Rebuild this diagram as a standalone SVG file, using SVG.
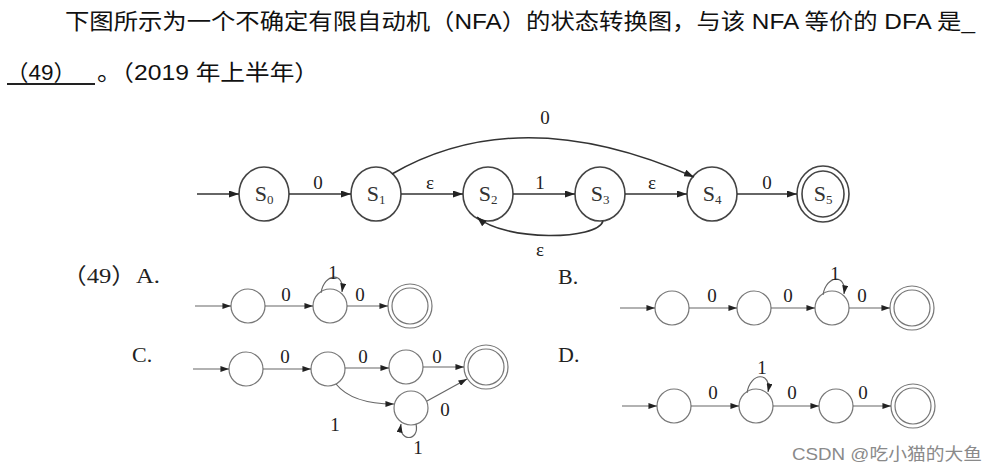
<svg xmlns="http://www.w3.org/2000/svg" width="998" height="473" viewBox="0 0 998 473">
<defs>
<marker id="ah" viewBox="0 0 10 7" refX="10" refY="3.5" markerWidth="10" markerHeight="7" markerUnits="userSpaceOnUse" orient="auto"><path d="M0,0 L10,3.5 L0,7 z" fill="#222"/></marker>
<marker id="as" viewBox="0 0 10 7" refX="10" refY="3.5" markerWidth="9" markerHeight="6" markerUnits="userSpaceOnUse" orient="auto"><path d="M0,0 L10,3.5 L0,7 z" fill="#222"/></marker>
<style>
.q{font-family:"Liberation Sans","Noto Sans CJK SC",sans-serif;font-size:22px;fill:#111}
.n{fill:#fff;stroke:#444;stroke-width:1.6}
.e{fill:none;stroke:#333;stroke-width:1.6;marker-end:url(#ah)}
.sl{font-family:"Liberation Serif",serif;font-size:22px;fill:#333;text-anchor:middle}
.el{font-family:"Liberation Serif",serif;font-size:19px;fill:#222;text-anchor:middle}
.o{font-family:"Liberation Serif","Noto Sans CJK SC",serif;font-size:22px;fill:#222}
.c{fill:#fff;stroke:#777;stroke-width:1.2}
.d{fill:none;stroke:#666;stroke-width:1.2;marker-end:url(#as)}
.dl{font-family:"Liberation Serif",serif;font-size:19px;fill:#222;text-anchor:middle}
</style>
</defs>
<rect width="998" height="473" fill="#fff"/>
<text class="q" x="65" y="29" textLength="910" lengthAdjust="spacingAndGlyphs">下图所示为一个不确定有限自动机（NFA）的状态转换图，与该 NFA 等价的 DFA 是_</text>
<text class="q" x="6" y="80" textLength="70" lengthAdjust="spacingAndGlyphs">（49）</text>
<line x1="7" y1="84" x2="95" y2="84" stroke="#222" stroke-width="2"/>
<text class="q" x="97" y="80" textLength="222" lengthAdjust="spacingAndGlyphs">。（2019 年上半年）</text>

<g id="S0"><ellipse class="n" cx="264" cy="194" rx="25" ry="27"/><text class="sl" x="264" y="201">S<tspan font-size="13" dy="3">0</tspan></text></g>
<g id="S1"><ellipse class="n" cx="376" cy="194" rx="25" ry="27"/><text class="sl" x="376" y="201">S<tspan font-size="13" dy="3">1</tspan></text></g>
<g id="S2"><ellipse class="n" cx="488" cy="194" rx="25" ry="27"/><text class="sl" x="488" y="201">S<tspan font-size="13" dy="3">2</tspan></text></g>
<g id="S3"><ellipse class="n" cx="600" cy="194" rx="25" ry="27"/><text class="sl" x="600" y="201">S<tspan font-size="13" dy="3">3</tspan></text></g>
<g id="S4"><ellipse class="n" cx="712" cy="194" rx="25" ry="27"/><text class="sl" x="712" y="201">S<tspan font-size="13" dy="3">4</tspan></text></g>
<g id="S5"><ellipse class="n" cx="823" cy="194" rx="26" ry="28"/><ellipse class="n" cx="823" cy="194" rx="21" ry="23"/><text class="sl" x="823" y="201">S<tspan font-size="13" dy="3">5</tspan></text></g>
<g id="connectors">
<line class="e" x1="197" y1="194" x2="239" y2="194"/>
<line class="e" x1="289" y1="194" x2="351" y2="194"/>
<line class="e" x1="401" y1="194" x2="463" y2="194"/>
<line class="e" x1="513" y1="194" x2="575" y2="194"/>
<line class="e" x1="625" y1="194" x2="687" y2="194"/>
<line class="e" x1="737" y1="194" x2="797" y2="194"/>
<path class="e" d="M392,174 Q520,100 694,177"/>
<path class="e" d="M603,221 C598,240 505,242 477,217"/>
<text class="el" x="545" y="124">0</text>
<text class="el" x="318" y="189">0</text>
<text class="el" x="430" y="189">ε</text>
<text class="el" x="540" y="189">1</text>
<text class="el" x="652" y="189">ε</text>
<text class="el" x="767" y="189">0</text>
<text class="el" x="540" y="256">ε</text>
</g>

<text class="o" x="62" y="283" textLength="98" lengthAdjust="spacingAndGlyphs">（49）A.</text>
<text class="o" x="558" y="284">B.</text>
<text class="o" x="132" y="362">C.</text>
<text class="o" x="558" y="362">D.</text>

<g id="optA">
<g id="A1"><circle class="c" cx="248" cy="306" r="17"/></g>
<g id="A2"><circle class="c" cx="330" cy="306" r="17"/></g>
<g id="A3"><circle class="c" cx="410" cy="306" r="22"/><circle class="c" cx="410" cy="306" r="18"/></g>
<g id="A-edges">
<line class="d" x1="195" y1="306" x2="231" y2="306"/>
<line class="d" x1="265" y1="306" x2="313" y2="306"/>
<line class="d" x1="347" y1="306" x2="388" y2="306"/>
<path class="d" d="M321,293 C324,273 345,271 342,292"/>
<text class="dl" x="286" y="301">0</text>
<text class="dl" x="360" y="301">0</text>
<text class="dl" x="333" y="279">1</text>
</g>
</g>

<g id="optB">
<g id="B1"><circle class="c" cx="672" cy="308" r="17"/></g>
<g id="B2"><circle class="c" cx="754" cy="308" r="17"/></g>
<g id="B3"><circle class="c" cx="832" cy="308" r="17"/></g>
<g id="B4"><circle class="c" cx="912" cy="308" r="22"/><circle class="c" cx="912" cy="308" r="18"/></g>
<g id="B-edges">
<line class="d" x1="620" y1="308" x2="655" y2="308"/>
<line class="d" x1="689" y1="308" x2="737" y2="308"/>
<line class="d" x1="771" y1="308" x2="815" y2="308"/>
<line class="d" x1="849" y1="308" x2="890" y2="308"/>
<path class="d" d="M823,295 C826,275 847,273 844,294"/>
<text class="dl" x="712" y="302">0</text>
<text class="dl" x="788" y="302">0</text>
<text class="dl" x="862" y="302">0</text>
<text class="dl" x="835" y="280">1</text>
</g>
</g>

<g id="optC">
<g id="C1"><circle class="c" cx="246" cy="369" r="17"/></g>
<g id="C2"><circle class="c" cx="328" cy="369" r="17"/></g>
<g id="C3"><circle class="c" cx="406" cy="367" r="17"/></g>
<g id="C4"><circle class="c" cx="486" cy="367" r="22"/><circle class="c" cx="486" cy="367" r="18"/></g>
<g id="C5"><circle class="c" cx="411" cy="408" r="17"/></g>
<g id="C-edges">
<line class="d" x1="193" y1="369" x2="229" y2="369"/>
<line class="d" x1="263" y1="369" x2="311" y2="369"/>
<line class="d" x1="345" y1="368" x2="389" y2="368"/>
<line class="d" x1="423" y1="367" x2="464" y2="367"/>
<path class="d" d="M336,384 Q352,404 394,404"/>
<line class="d" x1="427" y1="401" x2="467" y2="379"/>
<path class="d" d="M416,424 C420,442 398,442 401,424"/>
<text class="dl" x="285" y="363">0</text>
<text class="dl" x="363" y="363">0</text>
<text class="dl" x="437" y="363">0</text>
<text class="dl" x="445" y="416">0</text>
<text class="dl" x="335" y="431">1</text>
<text class="dl" x="418" y="454">1</text>
</g>
</g>

<g id="optD">
<g id="D1"><circle class="c" cx="674" cy="406" r="17"/></g>
<g id="D2"><circle class="c" cx="756" cy="406" r="17"/></g>
<g id="D3"><circle class="c" cx="836" cy="406" r="17"/></g>
<g id="D4"><circle class="c" cx="913" cy="406" r="22"/><circle class="c" cx="913" cy="406" r="18"/></g>
<g id="D-edges">
<line class="d" x1="622" y1="406" x2="657" y2="406"/>
<line class="d" x1="691" y1="406" x2="739" y2="406"/>
<line class="d" x1="773" y1="406" x2="819" y2="406"/>
<line class="d" x1="853" y1="406" x2="891" y2="406"/>
<path class="d" d="M747,393 C750,372 772,371 768,392"/>
<text class="dl" x="713" y="399">0</text>
<text class="dl" x="792" y="399">0</text>
<text class="dl" x="863" y="399">0</text>
<text class="dl" x="762" y="374">1</text>
</g>
</g>

<text x="792" y="460" font-family="Liberation Sans,Noto Sans CJK SC,sans-serif" font-size="17" fill="#8a8a8a" textLength="190" lengthAdjust="spacingAndGlyphs">CSDN @吃小猫的大鱼</text>
</svg>
